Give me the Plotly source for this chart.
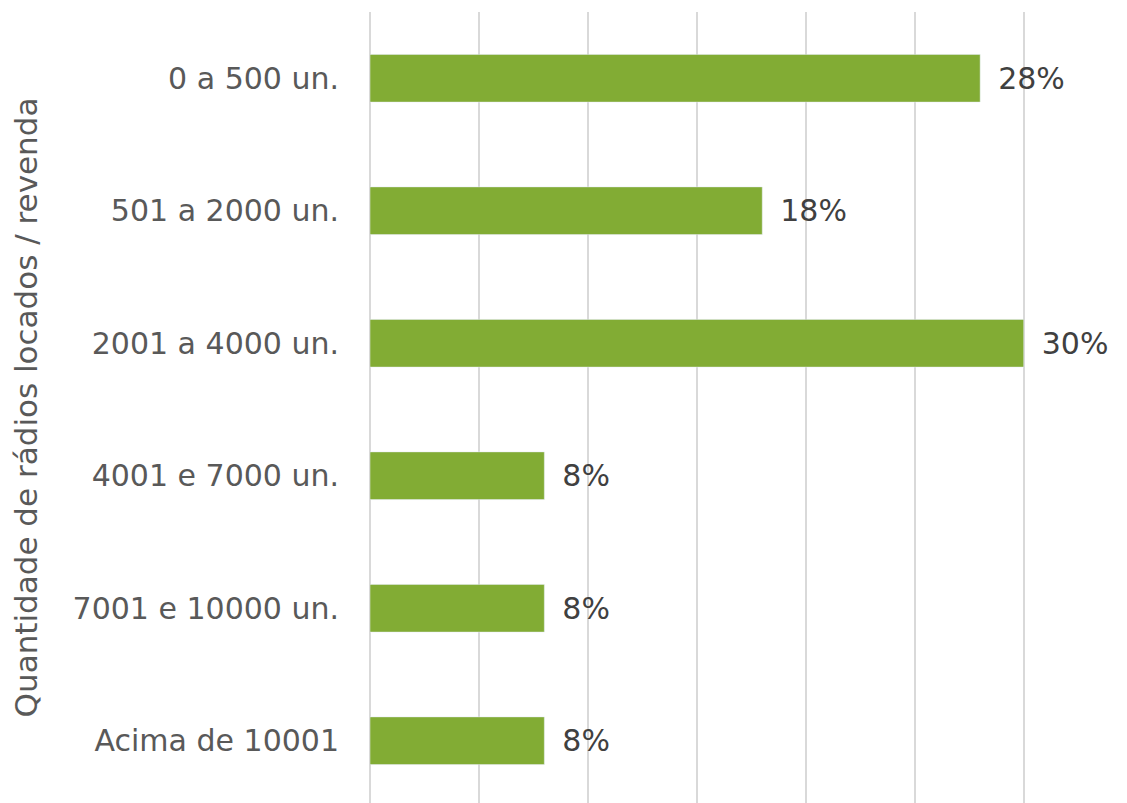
import plotly.graph_objects as go

categories = [
    "0 a 500 un.",
    "501 a 2000 un.",
    "2001 a 4000 un.",
    "4001 e 7000 un.",
    "7001 e 10000 un.",
    "Acima de 10001",
]
percentages = [28, 18, 30, 8, 8, 8]
axis_title = "Quantidade de rádios locados / revenda"

font_family = "DejaVu Sans"

fig = go.Figure(
    go.Bar(
        x=percentages,
        y=categories,
        orientation="h",
        marker_color="#82ac34",
        width=0.36,
        text=[f"{v}%" for v in percentages],
        texttemplate="\u2002%{text}",
        textposition="outside",
        textfont=dict(family=font_family, size=30, color="#404040"),
        cliponaxis=False,
    )
)

fig.update_layout(
    width=1127,
    height=803,
    paper_bgcolor="white",
    plot_bgcolor="white",
    margin=dict(l=362, r=108, t=4, b=8),
    showlegend=False,
    font=dict(family=font_family, size=30, color="#595959"),
)

fig.update_xaxes(
    range=[0, 30.15],
    dtick=5,
    showticklabels=False,
    showgrid=True,
    gridcolor="#d9d9d9",
    gridwidth=2,
    zeroline=True,
    zerolinecolor="#d9d9d9",
    zerolinewidth=2,
)

fig.update_yaxes(
    categoryorder="array",
    categoryarray=categories,
    range=[5.47, -0.5],
    showgrid=False,
    ticks="",
    ticklabelstandoff=30,
    tickfont=dict(size=30, color="#595959"),
    title=dict(text=axis_title, font=dict(size=31, color="#595959"), standoff=25),
)

fig.write_html("out.html")
